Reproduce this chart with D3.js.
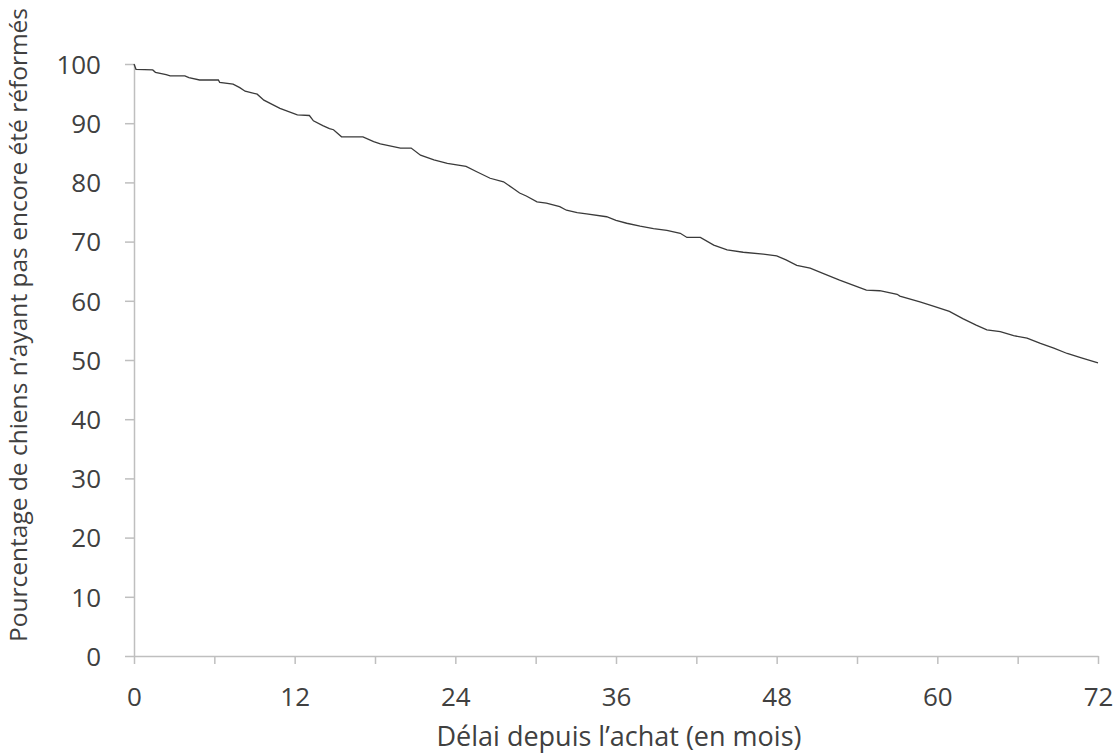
<!DOCTYPE html>
<html>
<head>
<meta charset="utf-8">
<script src="https://cdn.jsdelivr.net/npm/d3@7"></script>
<style>
  body { margin: 0; background: #fff; }
  text { font-family: "Open Sans", sans-serif; fill: #404040; }
</style>
</head>
<body>
<script>
// survival curve (months, percent)
var months = [0, 0.15, 1.4, 1.6, 2.4, 2.7, 3.8, 4.1, 4.9, 6.3, 6.4, 7.4, 7.9, 8.3, 9.2,
  9.7, 10.9, 12.2, 13.1, 13.4, 14.1, 14.6, 14.9, 15.5, 17.1, 17.9, 18.4, 19.9,
  20.7, 21.4, 22.4, 23.4, 24.8, 25.6, 26.6, 27.6, 28.3, 28.8, 29.3, 30.1, 30.8,
  31.8, 32.3, 33.1, 33.8, 35.3, 36.0, 36.8, 37.8, 38.8, 39.8, 40.8, 41.3, 42.3,
  43.3, 44.3, 45.5, 47.0, 48.0, 48.7, 49.5, 50.5, 51.5, 52.7, 54.0, 54.7, 55.7,
  57.0, 57.2, 58.7, 59.7, 60.9, 61.9, 62.9, 63.7, 64.7, 65.7, 66.7, 67.7, 68.7,
  69.7, 70.7, 72];
var percent = [100, 99.1, 99.0, 98.6, 98.2, 98.0, 98.0, 97.7, 97.3, 97.3, 96.9, 96.6, 96.0, 95.4, 94.9,
  93.9, 92.5, 91.4, 91.3, 90.4, 89.6, 89.1, 88.9, 87.7, 87.7, 86.9, 86.5, 85.8,
  85.8, 84.6, 83.8, 83.2, 82.7, 81.8, 80.7, 80.1, 79.0, 78.2, 77.7, 76.7, 76.5,
  75.9, 75.3, 74.9, 74.7, 74.2, 73.6, 73.1, 72.6, 72.2, 71.9, 71.4, 70.7, 70.7,
  69.4, 68.6, 68.2, 67.9, 67.6, 66.9, 66.0, 65.5, 64.6, 63.5, 62.4, 61.8, 61.7,
  61.1, 60.8, 59.8, 59.1, 58.2, 57.0, 55.9, 55.1, 54.8, 54.1, 53.7, 52.8, 52.0,
  51.1, 50.4, 49.5];

var xTicks = [0, 6, 12, 18, 24, 30, 36, 42, 48, 54, 60, 66, 72];
var xLabels = [0, 12, 24, 36, 48, 60, 72];
var yTicks = [0, 10, 20, 30, 40, 50, 60, 70, 80, 90, 100];

var xTitle = "Délai depuis l’achat (en mois)";
var yTitle = "Pourcentage de chiens n’ayant pas encore été réformés";

// dimensions
var W = 1117, H = 756;
var margin = {top: 64, right: 19, bottom: 100, left: 134},
    width = W - margin.left - margin.right,
    height = H - margin.top - margin.bottom;

var x = d3.scaleLinear().domain([0, 72]).range([0, width]);
var y = d3.scaleLinear().domain([0, 100]).range([height, 0]);

var svg = d3.select("body").append("svg")
    .attr("width", W)
    .attr("height", H);

var g = svg.append("g")
    .attr("transform", "translate(" + margin.left + "," + margin.top + ")");

var axisColor = "#bfbfbf";

// x axis: ticks every 6 months, labels every 12
var xAxis = g.append("g")
    .attr("transform", "translate(0," + height + ")")
    .call(d3.axisBottom(x).tickValues(xTicks).tickSize(8).tickSizeOuter(0)
      .tickFormat(function(d) { return xLabels.indexOf(d) >= 0 ? d : ""; }));
xAxis.selectAll("text").attr("dy", "0").attr("y", 50).style("font-size", "26px");

// y axis
var yAxis = g.append("g")
    .call(d3.axisLeft(y).tickValues(yTicks).tickSize(9).tickSizeOuter(0));
yAxis.selectAll("text").attr("x", -33).attr("dy", "0.36em").style("font-size", "26px");

[xAxis, yAxis].forEach(function(a) {
  a.select(".domain").attr("stroke", axisColor).attr("stroke-width", 1.5);
  a.selectAll(".tick line").attr("stroke", axisColor).attr("stroke-width", 1.5);
  a.selectAll("text").style("fill", "#404040").attr("font-family", null);
});

// the curve
var data = months.map(function(m, i) { return {m: m, p: percent[i]}; });
var line = d3.line()
    .x(function(d) { return x(d.m); })
    .y(function(d) { return y(d.p); });

g.append("path")
    .datum(data)
    .attr("fill", "none")
    .attr("stroke", "#3a3a3a")
    .attr("stroke-width", 1.3)
    .attr("d", line);

// axis titles
svg.append("text")
    .attr("x", 619)
    .attr("y", 746)
    .attr("text-anchor", "middle")
    .style("font-size", "27px")
    .text(xTitle);

svg.append("text")
    .attr("transform", "translate(27," + 325 + ") rotate(-90)")
    .attr("text-anchor", "middle")
    .style("font-size", "24.5px")
    .text(yTitle);
</script>
</body>
</html>
